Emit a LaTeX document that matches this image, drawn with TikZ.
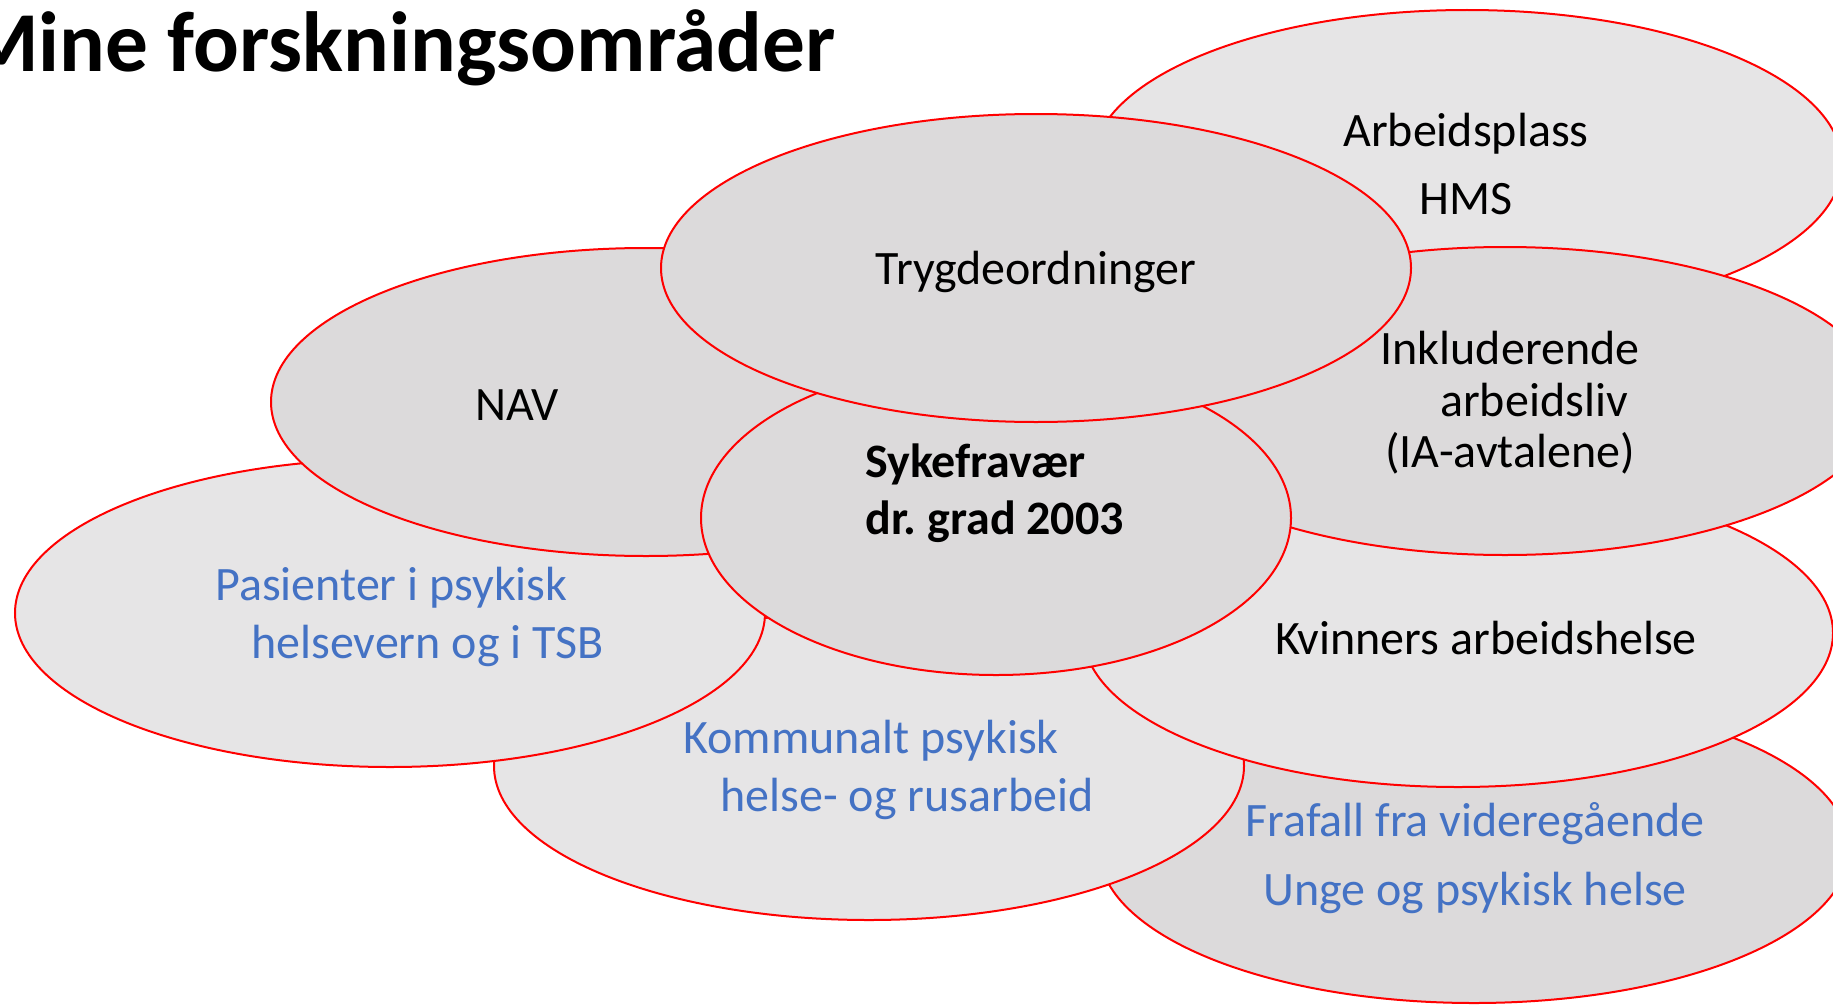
\documentclass[tikz,border=0pt]{standalone}
\usepackage{fontspec}
\setmainfont{Carlito}
\usetikzlibrary{shapes.geometric}
\definecolor{lightgrey}{HTML}{E6E5E6}
\definecolor{darkgrey}{HTML}{DCDADB}
\definecolor{textblue}{HTML}{4472C4}
\frenchspacing

\begin{document}
\begin{tikzpicture}[x=0.75pt,y=-0.75pt,
  area/.style={ellipse,draw=red,line width=1.5pt,inner sep=0pt,
    minimum width=562.5pt,minimum height=231pt},
  light/.style={area,fill=lightgrey},
  dark/.style={area,fill=darkgrey},
  txt/.style={font=\fontsize{36}{#1}\selectfont,inner sep=0pt,align=center},
  txt/.default=43,
  bluetxt/.style={txt=#1,text=textblue},
  bluetxt/.default=43]
\clip (0,0) rectangle (1833,1006);
% areas, back to front
\node[light] (arbeid) at (1467,164) {};
\node[dark] (frafall) at (1474,849) {};
\node[light] (kommunal) at (869,766) {};
\node[light] (pasient) at (390,613) {};
\node[dark] (nav) at (646,402) {};
\node[light] (kvinner) at (1458,633) {};
\node[dark] (ia) at (1505,401) {};
\node[dark,minimum width=442.5pt,minimum height=235.5pt] (syke) at (996,518) {};
\node[dark] (trygd) at (1036,268) {};
% texts
\node[font=\fontsize{64}{72}\selectfont\bfseries,inner sep=0pt,anchor=base east] (title) at (836,71) {Mine forskningsområder};
\node[txt=51] (arbeidtxt) at (1466,164) {Arbeidsplass\\HMS};
\node[txt] (trygdtxt) at (1036,272) {Trygdeordninger};
\node[txt] (navtxt) at (517,405) {NAV};
\node[txt,align=left,anchor=west,font=\fontsize{36}{43}\selectfont\bfseries] (syketxt) at (865,493) {Sykefravær\\dr. grad 2003};
\node[txt=38.6] (iatxt) at (1510,403) {Inkluderende\\\hspace*{1em}arbeidsliv\\(IA-avtalene)};
\node[txt] (kvinnertxt) at (1486,638) {Kvinners arbeidshelse};
\node[bluetxt,align=left,anchor=west] (pasienttxt) at (215,617) {Pasienter i psykisk\\\hspace*{27pt}helsevern og i TSB};
\node[bluetxt,align=left,anchor=west] (kommunaltxt) at (683,770) {Kommunalt psykisk\\\hspace*{28pt}helse- og rusarbeid};
\node[bluetxt=52] (frafalltxt) at (1475,858) {Frafall fra videregående\\Unge og psykisk helse};
\end{tikzpicture}
\end{document}
